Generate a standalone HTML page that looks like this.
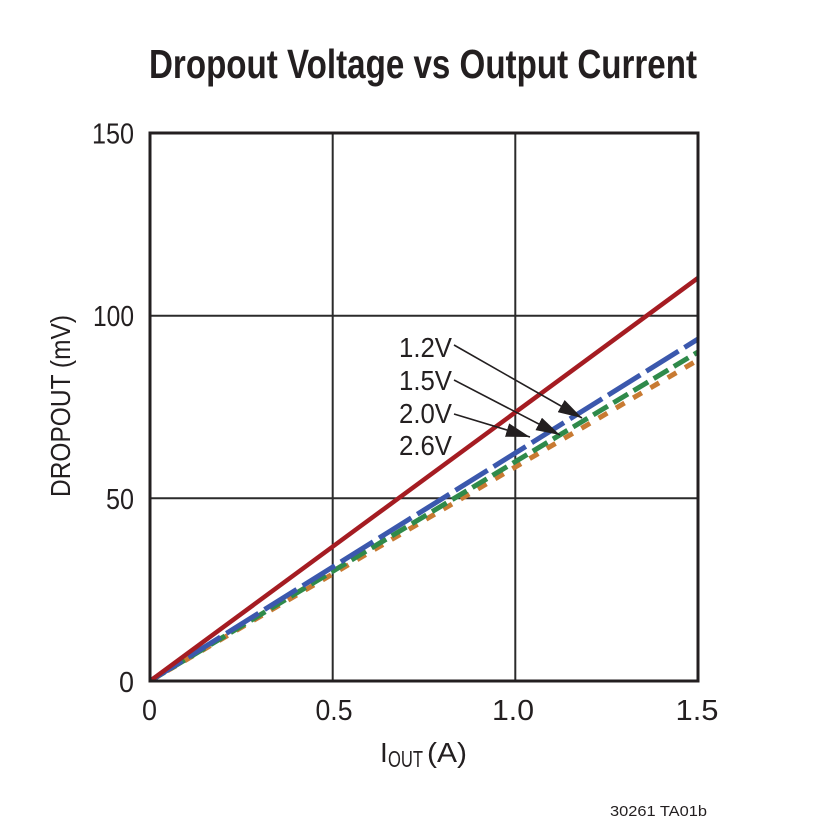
<!DOCTYPE html>
<html>
<head>
<meta charset="utf-8">
<style>
  html, body { margin: 0; padding: 0; background: #ffffff; }
  svg { display: block; }
  text { font-family: "Liberation Sans Narrow", "Liberation Sans", sans-serif; fill: #231f20; }
</style>
</head>
<body>
<svg width="825" height="825" viewBox="0 0 825 825" xmlns="http://www.w3.org/2000/svg">
  <defs>
    <clipPath id="plot">
      <rect x="150" y="133" width="548" height="548"/>
    </clipPath>
    <marker id="ah" viewBox="0 0 24 14" refX="24" refY="7" markerWidth="24" markerHeight="14" markerUnits="userSpaceOnUse" orient="auto">
      <path d="M0,0 L24,7 L0,14 z" fill="#231f20"/>
    </marker>
  </defs>
  <rect x="0" y="0" width="825" height="825" fill="#ffffff"/>

  <!-- Title -->
  <text x="149" y="78" font-size="41" font-weight="bold" textLength="548" lengthAdjust="spacingAndGlyphs">Dropout Voltage vs Output Current</text>

  <!-- Grid -->
  <g stroke="#2b2b2b" stroke-width="2">
    <line x1="332.7" y1="133" x2="332.7" y2="681"/>
    <line x1="515.3" y1="133" x2="515.3" y2="681"/>
    <line x1="150" y1="315.7" x2="698" y2="315.7"/>
    <line x1="150" y1="498.3" x2="698" y2="498.3"/>
  </g>

  <!-- Series -->
  <g clip-path="url(#plot)" fill="none">
    <line x1="150" y1="681" x2="698" y2="360" stroke="#c87a32" stroke-width="5" stroke-dasharray="10 10"/>
    <line x1="150" y1="681" x2="698" y2="352" stroke="#2f8a4a" stroke-width="5" stroke-dasharray="17 6.5"/>
    <line x1="150" y1="681" x2="698" y2="339" stroke="#3b58ad" stroke-width="5" stroke-dasharray="38 7"/>
    <line x1="150" y1="681" x2="698" y2="278" stroke="#a51c22" stroke-width="4.5"/>
  </g>

  <!-- Frame -->
  <rect x="150" y="133" width="548" height="548" fill="none" stroke="#231f20" stroke-width="3"/>

  <!-- Y tick labels -->
  <text x="134" y="143.5" font-size="29" text-anchor="end" textLength="42" lengthAdjust="spacingAndGlyphs">150</text>
  <text x="134" y="326" font-size="29" text-anchor="end" textLength="41" lengthAdjust="spacingAndGlyphs">100</text>
  <text x="134" y="509" font-size="29" text-anchor="end" textLength="28" lengthAdjust="spacingAndGlyphs">50</text>
  <text x="134" y="692" font-size="29" text-anchor="end" textLength="15" lengthAdjust="spacingAndGlyphs">0</text>

  <!-- X tick labels -->
  <text x="149.5" y="720" font-size="29" text-anchor="middle" textLength="15" lengthAdjust="spacingAndGlyphs">0</text>
  <text x="334" y="720" font-size="29" text-anchor="middle" textLength="37" lengthAdjust="spacingAndGlyphs">0.5</text>
  <text x="513" y="720" font-size="29" text-anchor="middle" textLength="42" lengthAdjust="spacingAndGlyphs">1.0</text>
  <text x="697" y="720" font-size="29" text-anchor="middle" textLength="43" lengthAdjust="spacingAndGlyphs">1.5</text>

  <!-- Axis labels -->
  <text transform="translate(70,406) rotate(-90)" font-size="28" text-anchor="middle" textLength="182" lengthAdjust="spacingAndGlyphs">DROPOUT (mV)</text>

  <text x="380" y="762" font-size="28">I</text>
  <text x="388" y="767" font-size="23" textLength="35" lengthAdjust="spacingAndGlyphs">OUT</text>
  <text x="427" y="762" font-size="28" textLength="40" lengthAdjust="spacingAndGlyphs">(A)</text>

  <!-- Legend labels -->
  <text x="399" y="357" font-size="28" textLength="53" lengthAdjust="spacingAndGlyphs">1.2V</text>
  <text x="399" y="390" font-size="28" textLength="53" lengthAdjust="spacingAndGlyphs">1.5V</text>
  <text x="399" y="423" font-size="28" textLength="53" lengthAdjust="spacingAndGlyphs">2.0V</text>
  <text x="399" y="455" font-size="28" textLength="53" lengthAdjust="spacingAndGlyphs">2.6V</text>

  <!-- Arrows -->
  <g stroke="#231f20" stroke-width="1.6" fill="none">
    <line x1="454" y1="345" x2="582" y2="418" marker-end="url(#ah)"/>
    <line x1="454" y1="380" x2="560" y2="435" marker-end="url(#ah)"/>
    <line x1="454" y1="414" x2="530" y2="437" marker-end="url(#ah)"/>
  </g>

  <!-- Footer -->
  <text x="610" y="816" font-size="15" textLength="97" lengthAdjust="spacingAndGlyphs">30261 TA01b</text>
</svg>
</body>
</html>
